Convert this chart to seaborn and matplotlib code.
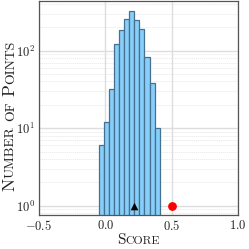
import numpy as np
import pandas as pd
import seaborn as sns
import matplotlib
matplotlib.use("Agg")
import matplotlib.pyplot as plt
from matplotlib.ticker import LogLocator, NullFormatter

# histogram bin edges and counts
bin_edges = [-0.047, -0.009, 0.029, 0.067, 0.105, 0.143, 0.181,
             0.219, 0.257, 0.295, 0.333, 0.371, 0.409]
bin_counts = [6, 12, 32, 122, 185, 257, 328, 246, 189, 84, 38, 10]

# reference markers
mean_score = [0.215]
mean_level = [1]
target_score = [0.5]
target_level = [1]

x_ticks = [-0.5, 0.0, 0.5, 1.0]

sns.set_style("whitegrid")
plt.rcParams["font.family"] = "serif"
plt.rcParams["font.serif"] = ["cmr10", "DejaVu Serif"]
plt.rcParams["mathtext.fontset"] = "cm"
plt.rcParams["axes.formatter.use_mathtext"] = True
plt.rcParams["axes.unicode_minus"] = True


def small_caps(fig, parts, center, base, rotation=0, big=11, small=8.5, gap=4):
    """Fake LaTeX small caps: list of (text, is_big) pieces, None for a space."""
    renderer = fig.canvas.get_renderer()
    W, H = fig.bbox.width, fig.bbox.height
    items = []
    for part in parts:
        if part is None:
            items.append((None, gap))
            continue
        s, is_big = part
        t = fig.text(0, 0, s, fontsize=big if is_big else small, ha="left",
                     va="baseline", rotation=rotation, rotation_mode="anchor",
                     color="#222222")
        bb = t.get_window_extent(renderer)
        items.append((t, bb.width if rotation == 0 else bb.height))
    total = sum(w for _, w in items)
    # horizontal text runs left to right, rotated text runs bottom to top
    pos = center - total / 2 if rotation == 0 else center + total / 2
    for t, w in items:
        if t is not None:
            if rotation == 0:
                t.set_position((pos / W, 1 - base / H))
            else:
                t.set_position((base / W, 1 - pos / H))
        pos += w if rotation == 0 else -w
    return items


fig = plt.figure(figsize=(2.49, 2.49), dpi=100)
ax = fig.add_axes([39 / 249, 34 / 249, 199 / 249, 213.5 / 249])

centers = [(a + b) / 2 for a, b in zip(bin_edges[:-1], bin_edges[1:])]
hist_df = pd.DataFrame({"score": centers, "count": bin_counts})
sns.histplot(data=hist_df, x="score", weights="count", bins=bin_edges,
             color="#87CEFA", edgecolor="#45708F", linewidth=0.9, alpha=1,
             ax=ax)
ax.set_yscale("log")

sns.scatterplot(x=mean_score, y=mean_level, marker="^", s=30, color="black",
                edgecolor="black", linewidth=0, zorder=5, ax=ax)
sns.scatterplot(x=target_score, y=target_level, marker="o", s=40, color="red",
                edgecolor="red", linewidth=0, zorder=5, ax=ax)

ax.set_xlim(-0.5, 1.0)
ax.set_ylim(0.76, 430)
ax.set_xticks(x_ticks)
ax.set_xlabel("")
ax.set_ylabel("")
ax.yaxis.set_minor_locator(LogLocator(base=10, subs=np.arange(2, 10)))
ax.yaxis.set_minor_formatter(NullFormatter())
ax.grid(True, which="major", color="#dddddd", linewidth=1.0)
ax.grid(True, which="minor", axis="y", color="#e6e6e6", linewidth=0.5,
        linestyle=(0, (2, 1)))
ax.set_axisbelow(True)
ax.tick_params(which="both", length=0, labelsize=9, pad=3, colors="#222222")
for spine in ax.spines.values():
    spine.set_color("#555555")
    spine.set_linewidth(0.9)

small_caps(fig, [("S", True), ("CORE", False)], center=138.5, base=244)
small_caps(fig, [("N", True), ("UMBER", False), None, ("OF", False), None,
                 ("P", True), ("OINTS", False)],
           center=116, base=14, rotation=90, big=12.5, small=9.8, gap=5)

fig.savefig("out.png", dpi=100)
